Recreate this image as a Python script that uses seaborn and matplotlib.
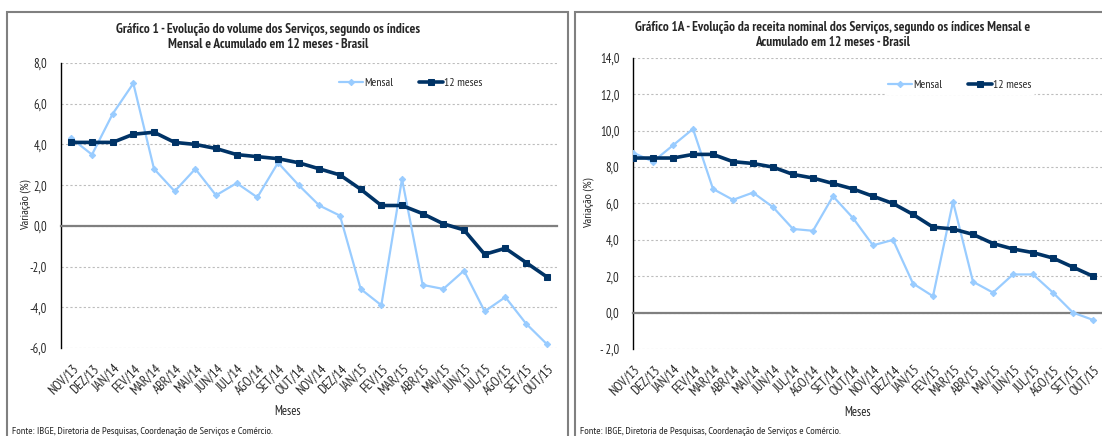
import numpy as np
import pandas as pd
import matplotlib
matplotlib.use("Agg")
import matplotlib.pyplot as plt
from matplotlib.patches import Rectangle
from matplotlib import font_manager as fm
import seaborn as sns

months = ["NOV/13", "DEZ/13", "JAN/14", "FEV/14", "MAR/14", "ABR/14", "MAI/14", "JUN/14",
          "JUL/14", "AGO/14", "SET/14", "OUT/14", "NOV/14", "DEZ/14", "JAN/15", "FEV/15",
          "MAR/15", "ABR/15", "MAI/15", "JUN/15", "JUL/15", "AGO/15", "SET/15", "OUT/15"]

vol_mensal = [4.3, 3.5, 5.5, 7.0, 2.8, 1.7, 2.8, 1.5, 2.1, 1.4, 3.1, 2.0,
              1.0, 0.5, -3.1, -3.9, 2.3, -2.9, -3.1, -2.2, -4.2, -3.5, -4.8, -5.8]
vol_12m = [4.1, 4.1, 4.1, 4.5, 4.6, 4.1, 4.0, 3.8, 3.5, 3.4, 3.3, 3.1,
           2.8, 2.5, 1.8, 1.0, 1.0, 0.6, 0.1, -0.2, -1.4, -1.1, -1.8, -2.5]

rec_mensal = [8.8, 8.3, 9.2, 10.1, 6.8, 6.2, 6.6, 5.8, 4.6, 4.5, 6.4, 5.2,
              3.7, 4.0, 1.6, 0.9, 6.1, 1.7, 1.1, 2.1, 2.1, 1.1, 0.0, -0.4]
rec_12m = [8.5, 8.5, 8.5, 8.7, 8.7, 8.3, 8.2, 8.0, 7.6, 7.4, 7.1, 6.8,
           6.4, 6.0, 5.4, 4.7, 4.6, 4.3, 3.8, 3.5, 3.3, 3.0, 2.5, 2.0]

left_yticks = [-6, -4, -2, 0, 2, 4, 6, 8]
left_yticklabels = ["-6,0", "-4,0", "-2,0", "0,0", "2,0", "4,0", "6,0", "8,0"]
right_yticks = [-2, 0, 2, 4, 6, 8, 10, 12, 14]
right_yticklabels = ["- 2,0", "0,0", "2,0", "4,0", "6,0", "8,0", "10,0", "12,0", "14,0"]

title_left = "Gráfico 1 - Evolução do volume dos Serviços, segundo os índices\nMensal e Acumulado em 12 meses - Brasil"
title_right = "Gráfico 1A - Evolução da receita nominal dos Serviços, segundo os índices Mensal e\nAcumulado em 12 meses - Brasil"
source = "Fonte: IBGE, Diretoria de Pesquisas, Coordenação de Serviços e Comércio."

sns.set_theme(style="white")
available = {f.name for f in fm.fontManager.ttflist}
candidates = ['Liberation Sans Narrow', 'Arial Narrow', 'Arimo Narrow', 'PT Sans Narrow',
              'Archivo Narrow', 'Roboto Condensed', 'Fira Sans Condensed', 'Liberation Sans']
fam = [c for c in candidates if c in available][:1] + ['DejaVu Sans']
plt.rcParams['font.family'] = fam

W, H = 1102, 436
fig = plt.figure(figsize=(W / 100, H / 100), dpi=100)
fig.patch.set_facecolor("white")

C_M = "#99CCFF"
C_12 = "#003366"


def px(x0, y0, x1, y1):
    return [x0 / W, 1 - y1 / H, (x1 - x0) / W, (y1 - y0) / H]


def draw(ax, mensal, m12, yticks, ylabels, ylim, xlim, spine_ticks, legend_anchor, legend_bg):
    df = pd.DataFrame({"x": np.arange(len(months)), "Mensal": mensal, "12 meses": m12})
    sns.lineplot(data=df, x="x", y="Mensal", ax=ax, color=C_M, lw=1.6, marker="D",
                 markersize=3.2, markeredgecolor=C_M, label="Mensal", zorder=3)
    sns.lineplot(data=df, x="x", y="12 meses", ax=ax, color=C_12, lw=2.6, marker="s",
                 markersize=4.5, markeredgecolor=C_12, label="12 meses", zorder=4)
    ax.set_ylim(*ylim)
    ax.set_xlim(*xlim)
    ax.set_yticks(yticks)
    ax.set_yticklabels(ylabels, fontsize=9)
    ax.yaxis.grid(True, color="#bdbdbd", linestyle=(0, (2, 2)), linewidth=0.8)
    ax.xaxis.grid(False)
    for s in ["top", "right"]:
        ax.spines[s].set_visible(False)
    ax.spines["left"].set_color("black")
    ax.spines["left"].set_linewidth(1.0)
    ax.spines["bottom"].set_position(("data", 0))
    ax.spines["bottom"].set_color("#7f7f7f")
    ax.spines["bottom"].set_linewidth(1.6)
    ax.set_xticks(spine_ticks)
    ax.tick_params(axis="x", direction="out", length=4, width=1, color="#555555",
                   labelbottom=False)
    ax.tick_params(axis="y", direction="out", length=3, width=1, color="black", pad=7)
    ax.set_xlabel("")
    ax.set_ylabel("")
    sec = ax.secondary_xaxis("bottom")
    sec.set_xticks(np.arange(len(months)))
    sec.set_xticklabels(months, rotation=45, ha="right", va="top",
                        rotation_mode="anchor", fontsize=9.5)
    sec.tick_params(length=0, pad=10)
    sec.spines["bottom"].set_visible(False)
    leg = ax.legend(loc="center", bbox_to_anchor=legend_anchor, ncol=2, frameon=legend_bg,
                    fontsize=8.5, handlelength=2.0, handletextpad=0.1, columnspacing=2.2,
                    borderpad=0.3)
    if legend_bg:
        leg.get_frame().set_facecolor("white")
        leg.get_frame().set_edgecolor("white")
        leg.get_frame().set_alpha(1)


axL = fig.add_axes(px(61, 63, 557, 348))
draw(axL, vol_mensal, vol_12m, left_yticks, left_yticklabels, (-6, 8), (-0.5, 23.5),
     np.arange(-0.5, 24, 1), (0.705, 0.93), False)

axR = fig.add_axes(px(633, 58, 1103, 349))
draw(axR, rec_mensal, rec_12m, right_yticks, right_yticklabels, (-2, 14), (0, 23.5),
     np.arange(0, 24, 1), (0.695, 0.907), True)

# titles
fig.text(268 / W, 1 - 37 / H, title_left, ha="center", va="center", fontsize=9.6,
         fontweight="bold", linespacing=1.25)
fig.text(833 / W, 1 - 35 / H, title_right, ha="center", va="center", fontsize=9.6,
         fontweight="bold", linespacing=1.25)

# axis labels
fig.text(26 / W, 1 - 205 / H, "Variação (%)", rotation=90, ha="center", va="center", fontsize=8.5)
fig.text(589 / W, 1 - 203 / H, "Variação (%)", rotation=90, ha="center", va="center", fontsize=8.5)
fig.text(288 / W, 1 - 411 / H, "Meses", ha="center", va="center", fontsize=9)
fig.text(858 / W, 1 - 412 / H, "Meses", ha="center", va="center", fontsize=9)

# sources
fig.text(12 / W, 1 - 431 / H, source, ha="left", va="center", fontsize=7.5)
fig.text(580 / W, 1 - 431 / H, source, ha="left", va="center", fontsize=7.5)

# panel borders
fig.patches.append(Rectangle((7 / W, -0.1), (568 - 7) / W, 1.1 - 12 / H,
                             transform=fig.transFigure, fill=False, edgecolor="#808080",
                             linewidth=1.5, zorder=10))
fig.patches.append(Rectangle((575 / W, -0.1), (1120 - 575) / W, 1.1 - 12 / H,
                             transform=fig.transFigure, fill=False, edgecolor="#808080",
                             linewidth=1.5, zorder=10))

fig.savefig("out.png", dpi=100)
